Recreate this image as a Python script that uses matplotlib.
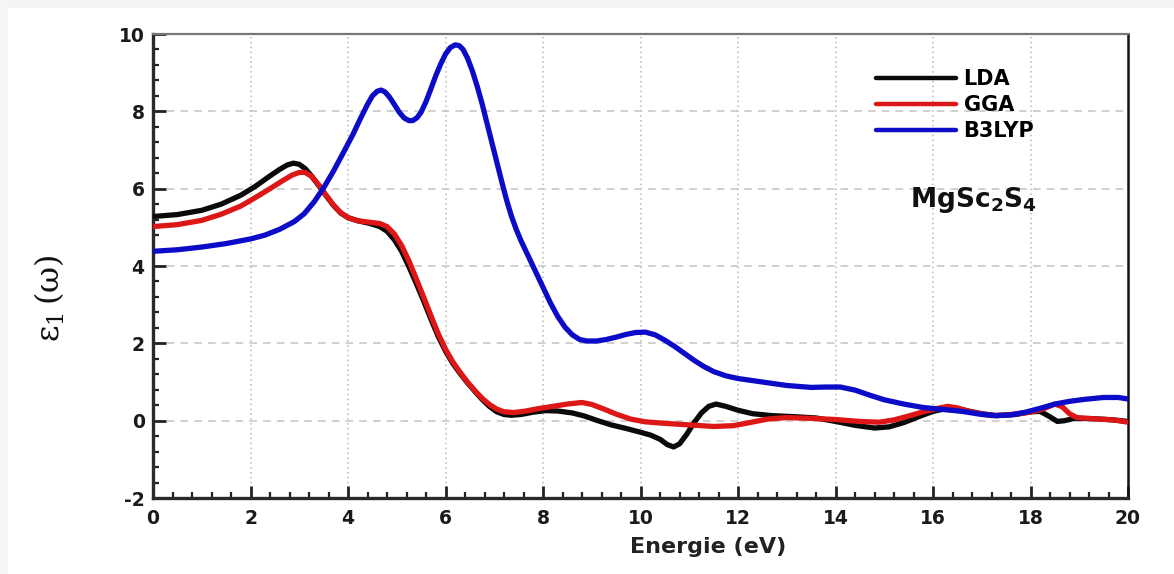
import matplotlib
matplotlib.use("Agg")
import matplotlib.pyplot as plt
from matplotlib.patches import Rectangle
from matplotlib.ticker import MultipleLocator

plt.rcParams['font.family'] = ['DejaVu Sans']
plt.rcParams['mathtext.fontset'] = 'custom'
plt.rcParams['mathtext.rm'] = 'DejaVu Sans:bold'
plt.rcParams['mathtext.bf'] = 'DejaVu Sans:bold'
plt.rcParams['mathtext.default'] = 'bf'

# Real part of the dielectric function of MgSc2S4
lda_e = [0.0, 0.5, 1.0, 1.4, 1.8, 2.1, 2.4, 2.6, 2.75, 2.88, 3.0, 3.12, 3.25, 3.4,
         3.55, 3.7, 3.85, 4.0, 4.2, 4.45, 4.65, 4.8, 4.95, 5.1, 5.25, 5.4, 5.55,
         5.7, 5.85, 6.0, 6.15, 6.3, 6.45, 6.6, 6.75, 6.9, 7.05, 7.2, 7.35, 7.55,
         7.8, 8.05, 8.3, 8.6, 8.85, 9.1, 9.4, 9.7, 10.0, 10.2, 10.4, 10.55, 10.68,
         10.8, 10.95, 11.1, 11.25, 11.4, 11.55, 11.75, 12.0, 12.3, 12.7, 13.2,
         13.6, 14.0, 14.4, 14.8, 15.1, 15.4, 15.7, 16.0, 16.3, 16.6, 17.0, 17.3,
         17.7, 18.0, 18.2, 18.4, 18.55, 18.7, 18.9, 19.3, 19.7, 20.0]
lda_eps = [5.28, 5.33, 5.44, 5.6, 5.83, 6.06, 6.33, 6.5, 6.61, 6.66, 6.63, 6.52,
           6.33, 6.08, 5.82, 5.57, 5.37, 5.25, 5.17, 5.1, 5.02, 4.9, 4.68, 4.38,
           3.98, 3.55, 3.1, 2.63, 2.18, 1.8, 1.48, 1.22, 0.98, 0.76, 0.55, 0.37,
           0.23, 0.16, 0.14, 0.16, 0.22, 0.26, 0.25, 0.2, 0.12, 0.01, -0.11,
           -0.2, -0.3, -0.37, -0.48, -0.62, -0.68, -0.6, -0.35, -0.05, 0.2, 0.37,
           0.43, 0.37, 0.27, 0.18, 0.13, 0.1, 0.07, -0.02, -0.12, -0.19, -0.16,
           -0.05, 0.1, 0.24, 0.32, 0.28, 0.18, 0.13, 0.16, 0.23, 0.24, 0.1,
           -0.02, 0.0, 0.06, 0.05, 0.02, -0.02]

gga_e = [0.0, 0.5, 1.0, 1.4, 1.8, 2.1, 2.4, 2.65, 2.85, 3.0, 3.12, 3.25, 3.4, 3.55,
         3.7, 3.85, 4.0, 4.2, 4.45, 4.65, 4.8, 4.95, 5.1, 5.25, 5.4, 5.55, 5.7,
         5.85, 6.0, 6.15, 6.3, 6.45, 6.6, 6.75, 6.9, 7.05, 7.2, 7.4, 7.65, 7.9,
         8.2, 8.5, 8.8, 9.0, 9.25, 9.5, 9.8, 10.1, 10.5, 11.0, 11.5, 11.9, 12.2,
         12.6, 13.0, 13.5, 14.0, 14.5, 14.9, 15.2, 15.5, 15.8, 16.1, 16.3, 16.5,
         16.8, 17.2, 17.6, 18.0, 18.25, 18.5, 18.65, 18.8, 18.95, 19.3, 19.7, 20.0]
gga_eps = [5.02, 5.07, 5.18, 5.34, 5.55, 5.77, 6.0, 6.2, 6.35, 6.42, 6.42, 6.32,
           6.1, 5.83, 5.58, 5.38, 5.25, 5.17, 5.13, 5.1, 5.02, 4.83, 4.53, 4.13,
           3.67, 3.2, 2.72, 2.25, 1.85, 1.52, 1.25, 1.0, 0.78, 0.58, 0.42, 0.3,
           0.23, 0.21, 0.25, 0.31, 0.37, 0.43, 0.47, 0.42, 0.3, 0.17, 0.04, -0.03,
           -0.07, -0.11, -0.15, -0.13, -0.06, 0.04, 0.08, 0.06, 0.03, -0.02, -0.04,
           0.02, 0.12, 0.23, 0.32, 0.37, 0.33, 0.22, 0.13, 0.16, 0.22, 0.3, 0.43,
           0.36, 0.18, 0.08, 0.05, 0.02, -0.04]

b3lyp_e = [0.0, 0.5, 1.0, 1.5, 2.0, 2.3, 2.6, 2.9, 3.1, 3.3, 3.5, 3.7, 3.9, 4.1,
           4.25, 4.4, 4.5, 4.6, 4.68, 4.76, 4.85, 4.95, 5.05, 5.15, 5.25, 5.33,
           5.42, 5.5, 5.6, 5.7, 5.8, 5.9, 6.0, 6.1, 6.2, 6.28, 6.36, 6.45, 6.55,
           6.65, 6.75, 6.85, 6.95, 7.05, 7.15, 7.25, 7.35, 7.45, 7.55, 7.7, 7.85,
           8.0, 8.15, 8.3, 8.45, 8.6, 8.75, 8.9, 9.1, 9.3, 9.5, 9.7, 9.9, 10.1,
           10.3, 10.5, 10.7, 10.9, 11.1, 11.3, 11.5, 11.75, 12.0, 12.5, 13.0,
           13.5, 13.8, 14.1, 14.4, 14.7, 15.0, 15.4, 15.8, 16.2, 16.6, 17.0, 17.3,
           17.6, 17.9, 18.2, 18.5, 18.8, 19.1, 19.5, 19.8, 20.0]
b3lyp_eps = [4.38, 4.42, 4.49, 4.58, 4.7, 4.8, 4.95, 5.15, 5.35, 5.65, 6.02, 6.45,
             6.92, 7.4, 7.8, 8.18, 8.4, 8.52, 8.55, 8.5, 8.37, 8.18, 7.98, 7.83,
             7.76, 7.76, 7.84, 7.98, 8.25, 8.58, 8.92, 9.22, 9.48, 9.65, 9.72,
             9.7, 9.6, 9.38, 9.05, 8.65, 8.2, 7.7, 7.2, 6.7, 6.2, 5.72, 5.3, 4.95,
             4.65, 4.25, 3.85, 3.45, 3.05, 2.7, 2.42, 2.22, 2.1, 2.06, 2.06, 2.1,
             2.16, 2.23, 2.28, 2.29, 2.22, 2.08, 1.92, 1.74, 1.56, 1.4, 1.27, 1.16,
             1.09, 1.0, 0.91, 0.86, 0.87, 0.87, 0.79, 0.66, 0.54, 0.43, 0.34, 0.29,
             0.24, 0.16, 0.13, 0.15, 0.22, 0.32, 0.43, 0.5, 0.55, 0.6, 0.6, 0.56]

series_labels = ['LDA', 'GGA', 'B3LYP']
x_ticks = [0, 2, 4, 6, 8, 10, 12, 14, 16, 18, 20]
y_ticks = [-2, 0, 2, 4, 6, 8, 10]

W, H = 1174, 574
fig = plt.figure(figsize=(W / 100, H / 100), dpi=100)
fig.patch.set_facecolor('white')
# faint page border
fig.patches.append(Rectangle((0, 1 - 8 / H), 1, 8 / H, transform=fig.transFigure,
                             facecolor='#f4f4f4', edgecolor='none', zorder=0))
fig.patches.append(Rectangle((0, 0), 8 / W, 1, transform=fig.transFigure,
                             facecolor='#f5f5f5', edgecolor='none', zorder=0))

ax = fig.add_axes([153 / W, 1 - 498 / H, (1128 - 153) / W, (498 - 34) / H])

lw = 3.8
ax.plot(lda_e, lda_eps, color='#0a0a0a', lw=lw, solid_joinstyle='round',
        solid_capstyle='round', label=series_labels[0], zorder=3)
ax.plot(gga_e, gga_eps, color='#dd1616', lw=lw, solid_joinstyle='round',
        solid_capstyle='round', label=series_labels[1], zorder=4)
ax.plot(b3lyp_e, b3lyp_eps, color='#0c0cc8', lw=lw, solid_joinstyle='round',
        solid_capstyle='round', label=series_labels[2], zorder=5)

ax.set_xlim(0, 20)
ax.set_ylim(-2, 10)
ax.set_xticks(x_ticks)
ax.set_yticks(y_ticks)
ax.set_xticklabels([str(t) for t in x_ticks])
ax.set_yticklabels([str(t) for t in y_ticks])
ax.xaxis.set_minor_locator(MultipleLocator(0.4))
ax.yaxis.set_minor_locator(MultipleLocator(0.4))

ax.tick_params(axis='both', which='both', direction='in', top=False, right=False,
               color='#222222')
ax.tick_params(axis='both', which='major', length=9, width=2.0,
               labelsize=13.5, pad=6)
ax.tick_params(axis='x', which='major', pad=8)
ax.tick_params(axis='both', which='minor', length=4.5, width=1.6)
for lab in ax.get_xticklabels() + ax.get_yticklabels():
    lab.set_fontweight('bold')
    lab.set_color('#1a1a1a')

# grid: dotted verticals, dashed horizontals
for xv in x_ticks[1:-1]:
    ax.axvline(xv, color='#b8b8b8', lw=1.1, ls=(0, (1, 2.2)), zorder=1)
for yv in y_ticks[1:-1]:
    ax.axhline(yv, color='#c4c4c4', lw=1.1, ls=(0, (5, 4)), zorder=1)

ax.spines['left'].set_linewidth(2.4)
ax.spines['left'].set_color('#2a2a2a')
ax.spines['bottom'].set_linewidth(2.4)
ax.spines['bottom'].set_color('#2a2a2a')
ax.spines['top'].set_linewidth(1.6)
ax.spines['top'].set_color('#777777')
ax.spines['right'].set_linewidth(1.8)
ax.spines['right'].set_color('#111111')

ax.set_xlabel('Energie (eV)', fontsize=16, fontweight='bold', color='#222222',
              labelpad=7)
ax.xaxis.set_label_coords(0.569, -0.085)

fig.text(50 / W, 1 - 298 / H, r'$\mathregular{\varepsilon_1\,(\omega)}$',
         rotation=90, ha='center', va='center', fontsize=23,
         family='DejaVu Serif', color='#111111')

leg = ax.legend(loc='upper left', bbox_to_anchor=(0.733, 0.942), frameon=False,
                handlelength=3.85, handletextpad=0.35, labelspacing=0.28,
                borderaxespad=0.0,
                prop={'weight': 'bold', 'size': 15})
for line in leg.get_lines():
    line.set_linewidth(3.2)

ax.text(0.842, 0.642, r'MgSc$_{2}$S$_{4}$', transform=ax.transAxes,
        ha='center', va='center', fontsize=19, fontweight='bold', color='#111111')

fig.savefig('out.png', dpi=100, facecolor=fig.get_facecolor())
